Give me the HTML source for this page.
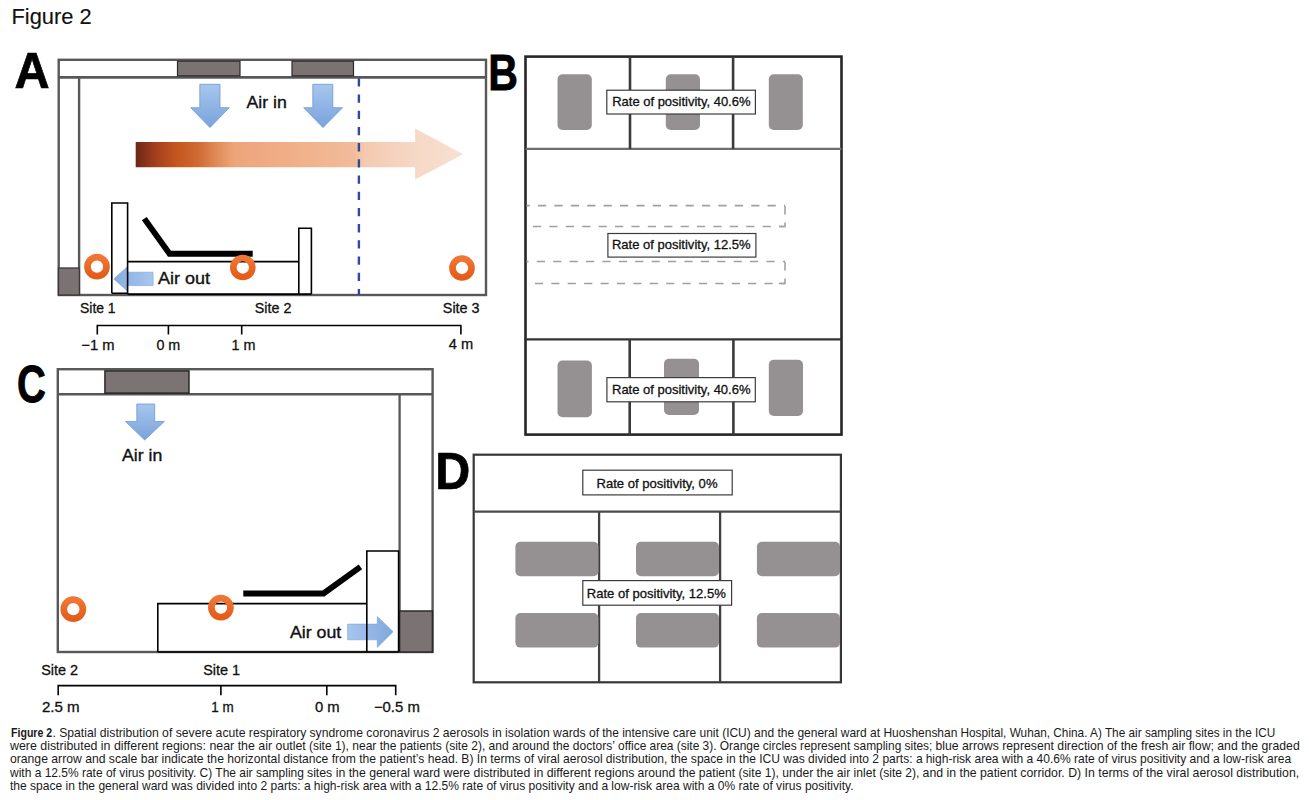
<!DOCTYPE html>
<html><head><meta charset="utf-8"><title>Figure 2</title>
<style>
html,body{margin:0;padding:0;background:#fff;width:1309px;height:800px;overflow:hidden;}
svg{display:block;font-family:"Liberation Sans", sans-serif;}
</style></head><body>
<svg width="1309" height="800" viewBox="0 0 1309 800">
<text x="11.5" y="23.8" font-size="22" font-weight="normal" fill="#111" textLength="80.2" lengthAdjust="spacingAndGlyphs" stroke="#111" stroke-width="0.15">Figure 2</text>
<text x="0" y="0" font-size="100" font-weight="bold" fill="#000" stroke="#000" stroke-width="1.441" transform="translate(14.44,88.25) scale(0.4859,0.5044)">A</text>
<text x="0" y="0" font-size="100" font-weight="bold" fill="#000" stroke="#000" stroke-width="1.701" transform="translate(488.20,90.35) scale(0.4116,0.5000)">B</text>
<text x="0" y="0" font-size="100" font-weight="bold" fill="#000" stroke="#000" stroke-width="1.754" transform="translate(16.91,401.55) scale(0.3992,0.5141)">C</text>
<text x="0" y="0" font-size="100" font-weight="bold" fill="#000" stroke="#000" stroke-width="1.445" transform="translate(435.31,489.25) scale(0.4843,0.5131)">D</text>
<defs><linearGradient id="og" x1="135.7" y1="0" x2="463.2" y2="0" gradientUnits="userSpaceOnUse"><stop offset="0" stop-color="#6a2816"/><stop offset="0.062" stop-color="#a53f1c"/><stop offset="0.125" stop-color="#c4561f"/><stop offset="0.19" stop-color="#d06a33"/><stop offset="0.245" stop-color="#e08a58"/><stop offset="0.30" stop-color="#eda47a"/><stop offset="0.46" stop-color="#f0ae87"/><stop offset="0.665" stop-color="#f2bb9a"/><stop offset="0.70" stop-color="#f4cab0"/><stop offset="0.855" stop-color="#f6d8c6"/><stop offset="1" stop-color="#f8e0d2"/></linearGradient><linearGradient id="bg" x1="0" y1="0" x2="0" y2="1"><stop offset="0" stop-color="#a6c6ee"/><stop offset="1" stop-color="#79a3dc"/></linearGradient><linearGradient id="bgl" x1="1" y1="0" x2="0" y2="0"><stop offset="0" stop-color="#a9c6ee"/><stop offset="1" stop-color="#86ade0"/></linearGradient><linearGradient id="bgh" x1="0" y1="0" x2="1" y2="0"><stop offset="0" stop-color="#a8c6ee"/><stop offset="1" stop-color="#7fa7dd"/></linearGradient><linearGradient id="rg" x1="0" y1="0" x2="0" y2="1"><stop offset="0" stop-color="#f07634"/><stop offset="1" stop-color="#e45c1a"/></linearGradient></defs>
<polygon points="135.7,141.9 415.1,141.9 415.1,128.6 463.2,154.2 415.1,179.4 415.1,167.3 135.7,167.3" fill="url(#og)"/>
<rect x="58.7" y="59.8" width="427.3" height="235.2" fill="none" stroke="#585858" stroke-width="2.4"/>
<line x1="58.5" y1="77.3" x2="486" y2="77.3" stroke="#585858" stroke-width="2.7"/>
<line x1="79.1" y1="77.3" x2="79.1" y2="295" stroke="#585858" stroke-width="2.4"/>
<rect x="58.5" y="268" width="20.9" height="27" fill="#7b7373" stroke="#3a3a3a" stroke-width="1.3"/>
<rect x="177.5" y="61.2" width="62.5" height="14.6" fill="#7b7272" stroke="#2a2a2a" stroke-width="1.2"/>
<rect x="292" y="61.2" width="61.5" height="14.6" fill="#7b7272" stroke="#2a2a2a" stroke-width="1.2"/>
<polygon points="199.8,84.3 220,84.3 220,107.7 229.2,107.7 210,127.6 190.7,107.7 199.8,107.7" fill="url(#bg)" stroke="#6f98d2" stroke-width="0.8"/>
<polygon points="312.8,84.3 332.8,84.3 332.8,107.7 342.6,107.7 323,127.6 303.6,107.7 312.8,107.7" fill="url(#bg)" stroke="#6f98d2" stroke-width="0.8"/>
<text x="246.5" y="108.3" font-size="16.5" font-weight="normal" fill="#111" textLength="40.3" lengthAdjust="spacingAndGlyphs" stroke="#111" stroke-width="0.35">Air in</text>
<line x1="358.9" y1="78.3" x2="358.9" y2="295" stroke="#2f4b9c" stroke-width="2.4" stroke-dasharray="8.3 7.9"/>
<polygon points="113.8,278.9 127.3,266.7 127.3,272.2 153.1,272.2 153.1,285.6 127.3,285.6 127.3,291.1" fill="url(#bgl)" stroke="#79a1d8" stroke-width="0.6"/>
<path d="M111.8,293.2 V203 H127.6 V293.2 H111.8 M298.8,294 V228.2 H311.4 V294 M127.6,261.6 H298.8 M127.6,294.1 H311.4" fill="none" stroke="#000" stroke-width="1.6"/>
<polyline points="144.3,218.6 169.5,253.7 252.7,253.7" fill="none" stroke="#000" stroke-width="5.9"/>
<circle cx="97" cy="266.7" r="9.5" fill="none" stroke="url(#rg)" stroke-width="6.7"/>
<circle cx="242.8" cy="267.5" r="9.5" fill="none" stroke="url(#rg)" stroke-width="6.7"/>
<circle cx="462" cy="268" r="9.5" fill="none" stroke="url(#rg)" stroke-width="6.7"/>
<text x="158" y="284.4" font-size="16.5" font-weight="normal" fill="#111" textLength="52" lengthAdjust="spacingAndGlyphs" stroke="#111" stroke-width="0.35">Air out</text>
<text x="80" y="313.3" font-size="14.2" font-weight="normal" fill="#111" textLength="35.6" lengthAdjust="spacingAndGlyphs" stroke="#111" stroke-width="0.3">Site 1</text>
<text x="254.8" y="313.3" font-size="14.2" font-weight="normal" fill="#111" textLength="36.6" lengthAdjust="spacingAndGlyphs" stroke="#111" stroke-width="0.3">Site 2</text>
<text x="442.8" y="312.8" font-size="14.2" font-weight="normal" fill="#111" textLength="36.8" lengthAdjust="spacingAndGlyphs" stroke="#111" stroke-width="0.3">Site 3</text>
<path d="M97.3,334.4 V325.5 H460.9 V334.4 M168.4,325.5 V334.4 M241.7,325.5 V334.4" fill="none" stroke="#000" stroke-width="1.6"/>
<text x="81.3" y="349.7" font-size="14.5" font-weight="normal" fill="#111" textLength="33.2" lengthAdjust="spacingAndGlyphs" stroke="#111" stroke-width="0.3">&#8722;1 m</text>
<text x="156.4" y="349.7" font-size="14.5" font-weight="normal" fill="#111" textLength="23.9" lengthAdjust="spacingAndGlyphs" stroke="#111" stroke-width="0.3">0 m</text>
<text x="231.4" y="349.7" font-size="14.5" font-weight="normal" fill="#111" textLength="24" lengthAdjust="spacingAndGlyphs" stroke="#111" stroke-width="0.3">1 m</text>
<text x="448.8" y="349.2" font-size="14.5" font-weight="normal" fill="#111" textLength="24.4" lengthAdjust="spacingAndGlyphs" stroke="#111" stroke-width="0.3">4 m</text>
<rect x="525.5" y="56.6" width="316" height="378" fill="none" stroke="#262626" stroke-width="2.6"/>
<line x1="525.6" y1="148.9" x2="841.6" y2="148.9" stroke="#6e6e6e" stroke-width="2.4"/>
<line x1="525.6" y1="339.4" x2="841.6" y2="339.4" stroke="#333" stroke-width="2.1"/>
<line x1="630" y1="56.8" x2="630" y2="148.9" stroke="#3a3a3a" stroke-width="2.6"/>
<line x1="733.1" y1="56.8" x2="733.1" y2="148.9" stroke="#3a3a3a" stroke-width="2.6"/>
<line x1="629.7" y1="339.4" x2="629.7" y2="434.7" stroke="#3a3a3a" stroke-width="2.6"/>
<line x1="733.4" y1="339.4" x2="733.4" y2="434.7" stroke="#3a3a3a" stroke-width="2.6"/>
<rect x="557.5" y="74.3" width="34.3" height="55.7" rx="5" fill="#959192"/>
<rect x="665.8" y="74.3" width="34.2" height="55.7" rx="5" fill="#959192"/>
<rect x="768.8" y="74.3" width="34" height="55.7" rx="5" fill="#959192"/>
<rect x="557.5" y="360.6" width="34.4" height="56.6" rx="5" fill="#959192"/>
<rect x="664" y="358.8" width="35" height="56.2" rx="5" fill="#959192"/>
<rect x="768.8" y="359.7" width="34.2" height="56.3" rx="5" fill="#959192"/>
<line x1="526.5" y1="205.6" x2="785" y2="205.6" stroke="#a0a0a0" stroke-width="1.6" stroke-dasharray="8.2 8.2" stroke-dashoffset="4.9"/>
<line x1="526.5" y1="226.5" x2="785" y2="226.5" stroke="#a0a0a0" stroke-width="1.6" stroke-dasharray="8.2 8.2" stroke-dashoffset="9.9"/>
<line x1="526.5" y1="261.5" x2="785" y2="261.5" stroke="#a0a0a0" stroke-width="1.6" stroke-dasharray="8.2 8.2" stroke-dashoffset="6.1"/>
<line x1="526.5" y1="283.5" x2="785" y2="283.5" stroke="#a0a0a0" stroke-width="1.6" stroke-dasharray="8.2 8.2" stroke-dashoffset="8.0"/>
<path d="M785,206 V214.5 M785,222.5 V226.5 H779" fill="none" stroke="#a0a0a0" stroke-width="1.6"/>
<path d="M785,262 V270.5 M785,278.5 V283.5 H779" fill="none" stroke="#a0a0a0" stroke-width="1.6"/>
<rect x="606.8" y="90.2" width="148.6" height="23.8" fill="#fff" stroke="#3c3c3c" stroke-width="1.2"/>
<text x="612.2" y="105.7" font-size="13" font-weight="normal" fill="#111" textLength="138.3" lengthAdjust="spacingAndGlyphs" stroke="#111" stroke-width="0.3">Rate of positivity, 40.6%</text>
<rect x="607.9" y="233.5" width="148" height="23.6" fill="#fff" stroke="#3c3c3c" stroke-width="1.2"/>
<text x="611.9" y="249.2" font-size="13" font-weight="normal" fill="#111" textLength="138.7" lengthAdjust="spacingAndGlyphs" stroke="#111" stroke-width="0.3">Rate of positivity, 12.5%</text>
<rect x="606.9" y="377.6" width="148.4" height="24.2" fill="#fff" stroke="#3c3c3c" stroke-width="1.2"/>
<text x="612" y="393.5" font-size="13" font-weight="normal" fill="#111" textLength="138.5" lengthAdjust="spacingAndGlyphs" stroke="#111" stroke-width="0.3">Rate of positivity, 40.6%</text>
<rect x="57.8" y="369.2" width="374.8" height="282.8" fill="none" stroke="#585858" stroke-width="2.4"/>
<line x1="57.9" y1="394.3" x2="432.6" y2="394.3" stroke="#585858" stroke-width="2.6"/>
<line x1="399.6" y1="394.3" x2="399.6" y2="651.9" stroke="#585858" stroke-width="2.3"/>
<rect x="104.9" y="370.9" width="84.1" height="22.2" fill="#7c7474" stroke="#222" stroke-width="1.4"/>
<rect x="399.6" y="611" width="32.8" height="41" fill="#7b7373" stroke="#2a2a2a" stroke-width="1.5"/>
<polygon points="136.8,404 154.7,404 154.7,421.5 164.3,421.5 144.7,440 125.5,421.5 136.8,421.5" fill="url(#bg)" stroke="#6f98d2" stroke-width="0.8"/>
<text x="122" y="460.7" font-size="16.5" font-weight="normal" fill="#111" textLength="40.3" lengthAdjust="spacingAndGlyphs" stroke="#111" stroke-width="0.35">Air in</text>
<polygon points="347.6,624.1 377.3,624.1 377.3,616.5 393.1,631.7 377.3,647.4 377.3,639.8 347.6,639.8" fill="url(#bgh)" stroke="#79a1d8" stroke-width="0.6"/>
<path d="M157.8,652 V603.6 H366.8 M366.8,652 V551 H398.6 V652 M157.8,652 H398.6" fill="none" stroke="#000" stroke-width="1.6"/>
<polyline points="243.3,593.5 323.5,593.5 360.4,566.9" fill="none" stroke="#000" stroke-width="5.9"/>
<circle cx="73.3" cy="609.2" r="9.5" fill="none" stroke="url(#rg)" stroke-width="6.7"/>
<circle cx="220.9" cy="607.6" r="9.5" fill="none" stroke="url(#rg)" stroke-width="6.7"/>
<text x="289.9" y="637.5" font-size="16.5" font-weight="normal" fill="#111" textLength="51.3" lengthAdjust="spacingAndGlyphs" stroke="#111" stroke-width="0.35">Air out</text>
<text x="41.2" y="675" font-size="14.2" font-weight="normal" fill="#111" textLength="36.9" lengthAdjust="spacingAndGlyphs" stroke="#111" stroke-width="0.3">Site 2</text>
<text x="203.2" y="675" font-size="14.2" font-weight="normal" fill="#111" textLength="36.9" lengthAdjust="spacingAndGlyphs" stroke="#111" stroke-width="0.3">Site 1</text>
<path d="M58.2,695.2 V685.6 H395.7 V695.2 M220.9,685.6 V695.2 M326.8,685.6 V695.2" fill="none" stroke="#000" stroke-width="1.6"/>
<text x="41.9" y="711.9" font-size="14.5" font-weight="normal" fill="#111" textLength="37.8" lengthAdjust="spacingAndGlyphs" stroke="#111" stroke-width="0.3">2.5 m</text>
<text x="211.3" y="711.9" font-size="14.5" font-weight="normal" fill="#111" textLength="22.4" lengthAdjust="spacingAndGlyphs" stroke="#111" stroke-width="0.3">1 m</text>
<text x="314.9" y="711.9" font-size="14.5" font-weight="normal" fill="#111" textLength="24.7" lengthAdjust="spacingAndGlyphs" stroke="#111" stroke-width="0.3">0 m</text>
<text x="373.9" y="711.9" font-size="14.5" font-weight="normal" fill="#111" textLength="45.9" lengthAdjust="spacingAndGlyphs" stroke="#111" stroke-width="0.3">&#8722;0.5 m</text>
<rect x="473.7" y="454.7" width="367.2" height="227.6" fill="none" stroke="#363636" stroke-width="2.2"/>
<line x1="473.7" y1="511.6" x2="840.6" y2="511.6" stroke="#4a4a4a" stroke-width="2.3"/>
<line x1="599.1" y1="511.6" x2="599.1" y2="682.1" stroke="#404040" stroke-width="2.3"/>
<line x1="720.1" y1="511.6" x2="720.1" y2="682.1" stroke="#404040" stroke-width="2.3"/>
<rect x="515.4" y="541.8" width="83.1" height="34.5" rx="5" fill="#959192"/>
<rect x="636" y="541.8" width="83.0" height="34.5" rx="5" fill="#959192"/>
<rect x="756.9" y="541.8" width="83.1" height="34.5" rx="5" fill="#959192"/>
<rect x="515.4" y="613.1" width="83.1" height="34.5" rx="5" fill="#959192"/>
<rect x="636" y="613.1" width="83.0" height="34.5" rx="5" fill="#959192"/>
<rect x="756.9" y="613.1" width="83.1" height="34.5" rx="5" fill="#959192"/>
<rect x="582.8" y="470.2" width="149.4" height="24.7" fill="#fff" stroke="#3c3c3c" stroke-width="1.2"/>
<text x="596.5" y="487.6" font-size="13" font-weight="normal" fill="#111" textLength="121" lengthAdjust="spacingAndGlyphs" stroke="#111" stroke-width="0.3">Rate of positivity, 0%</text>
<rect x="582.8" y="580.6" width="148.8" height="24.6" fill="#fff" stroke="#3c3c3c" stroke-width="1.2"/>
<text x="586.8" y="597.7" font-size="13" font-weight="normal" fill="#111" textLength="139" lengthAdjust="spacingAndGlyphs" stroke="#111" stroke-width="0.3">Rate of positivity, 12.5%</text>
<text x="11" y="736.8" font-size="11.9" font-weight="bold" fill="#1a1a1a" textLength="41.2" lengthAdjust="spacingAndGlyphs">Figure 2</text>
<text x="52.4" y="736.8" font-size="11.9" fill="#1a1a1a" textLength="254.0" lengthAdjust="spacingAndGlyphs">. Spatial distribution of severe acute respiratory</text>
<text x="309.5" y="736.8" font-size="11.9" fill="#1a1a1a" textLength="289.6" lengthAdjust="spacingAndGlyphs">syndrome coronavirus 2 aerosols in isolation wards of</text>
<text x="602.2" y="736.8" font-size="11.9" fill="#1a1a1a" textLength="355.2" lengthAdjust="spacingAndGlyphs">the intensive care unit (ICU) and the general ward at Huoshenshan</text>
<text x="960.5" y="736.8" font-size="11.9" fill="#1a1a1a" textLength="314.8" lengthAdjust="spacingAndGlyphs">Hospital, Wuhan, China. A) The air sampling sites in the ICU</text>
<text x="10" y="750.1" font-size="11.9" fill="#1a1a1a" textLength="295.8" lengthAdjust="spacingAndGlyphs">were distributed in different regions: near the air outlet</text>
<text x="308.9" y="750.1" font-size="11.9" fill="#1a1a1a" textLength="306.0" lengthAdjust="spacingAndGlyphs">(site 1), near the patients (site 2), and around the doctors&#8217;</text>
<text x="618" y="750.1" font-size="11.9" fill="#1a1a1a" textLength="314.4" lengthAdjust="spacingAndGlyphs">office area (site 3). Orange circles represent sampling sites;</text>
<text x="935.5" y="750.1" font-size="11.9" fill="#1a1a1a" textLength="364.2" lengthAdjust="spacingAndGlyphs">blue arrows represent direction of the fresh air flow; and the graded</text>
<text x="10" y="763.4" font-size="11.9" fill="#1a1a1a" textLength="270.1" lengthAdjust="spacingAndGlyphs">orange arrow and scale bar indicate the horizontal</text>
<text x="283.2" y="763.4" font-size="11.9" fill="#1a1a1a" textLength="319.5" lengthAdjust="spacingAndGlyphs">distance from the patient&#8217;s head. B) In terms of viral aerosol</text>
<text x="605.8" y="763.4" font-size="11.9" fill="#1a1a1a" textLength="316.8" lengthAdjust="spacingAndGlyphs">distribution, the space in the ICU was divided into 2 parts: a</text>
<text x="925.7" y="763.4" font-size="11.9" fill="#1a1a1a" textLength="365.4" lengthAdjust="spacingAndGlyphs">high-risk area with a 40.6% rate of virus positivity and a low-risk area</text>
<text x="10" y="776.6" font-size="11.9" fill="#1a1a1a" textLength="293.9" lengthAdjust="spacingAndGlyphs">with a 12.5% rate of virus positivity. C) The air sampling</text>
<text x="307" y="776.6" font-size="11.9" fill="#1a1a1a" textLength="327.5" lengthAdjust="spacingAndGlyphs">sites in the general ward were distributed in different regions</text>
<text x="637.6" y="776.6" font-size="11.9" fill="#1a1a1a" textLength="281.9" lengthAdjust="spacingAndGlyphs">around the patient (site 1), under the air inlet (site 2),</text>
<text x="922.6" y="776.6" font-size="11.9" fill="#1a1a1a" textLength="376.6" lengthAdjust="spacingAndGlyphs">and in the patient corridor. D) In terms of the viral aerosol distribution,</text>
<text x="10" y="789.9" font-size="11.9" fill="#1a1a1a" textLength="300.7" lengthAdjust="spacingAndGlyphs">the space in the general ward was divided into 2 parts: a</text>
<text x="313.8" y="789.9" font-size="11.9" fill="#1a1a1a" textLength="294.4" lengthAdjust="spacingAndGlyphs">high-risk area with a 12.5% rate of virus positivity and a</text>
<text x="611.3" y="789.9" font-size="11.9" fill="#1a1a1a" textLength="242.3" lengthAdjust="spacingAndGlyphs">low-risk area with a 0% rate of virus positivity.</text>
</svg>
</body></html>
